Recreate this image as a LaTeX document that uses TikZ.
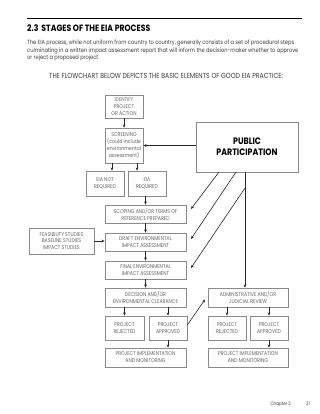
\documentclass[tikz,border=0pt]{standalone}
\usepackage{fontspec}
\setmainfont{Poppins}[FakeStretch=0.85]
\usetikzlibrary{arrows.meta}
\definecolor{boxgray}{HTML}{8A8A8A}
\definecolor{txtgray}{HTML}{666666}
\definecolor{paragray}{HTML}{3C3C3C}
\begin{document}
\begin{tikzpicture}[x=1pt,y=-1pt,
  box/.style={draw=boxgray,line width=0.6pt,text=txtgray,align=center,inner sep=0pt,font=\fontsize{5.5}{6.9}\selectfont},
  arr/.style={-{Stealth[length=3.2pt,width=2.6pt]},line width=0.6pt,draw=black!85},
  para/.style={anchor=base west,inner sep=0pt,text=paragray,font=\fontsize{6}{7}\selectfont}]
\useasboundingbox (0,0) rectangle (320,414);
% header
\coordinate (r1) at (27,19);
\coordinate (r2) at (302,19);
\draw[line width=1pt] (r1) -- (r2);
\node[anchor=base west,inner sep=0pt,font=\fontsize{9.1}{10}\bfseries\selectfont] (title) at (27,32) {2.3\hspace{3pt}STAGES OF THE EIA PROCESS};
\node[para] (p1) at (27,45) {The EIA process, while not uniform from country to country, generally consists of a set of procedural steps};
\node[para] (p2) at (27,52.5) {culminating in a written impact assessment report that will inform the decision-maker whether to approve};
\node[para] (p3) at (27,60) {or reject a proposed project.};
\node[anchor=base,inner sep=0pt,text=paragray,font=\fontsize{7.3}{8}\selectfont] (sub) at (166,79) {THE FLOWCHART BELOW DEPICTS THE BASIC ELEMENTS OF GOOD EIA PRACTICE:};
% boxes
\node[box,minimum width=38pt,minimum height=23pt] (ident) at (124,106.5) {IDENTIFY\\PROJECT\\OR ACTION};
\node[box,minimum width=38pt,minimum height=35pt] (screen) at (124,145.5) {SCREENING\\(could include\\environmental\\assessment)};
\node[box,minimum width=102pt,minimum height=50pt,text=black,font=\fontsize{9.3}{11}\bfseries\selectfont] (pp) at (247,147) {PUBLIC\\PARTICIPATION};
\node[box,minimum width=38pt,minimum height=25pt] (notreq) at (105,183.5) {EIA NOT\\REQUIRED};
\node[box,minimum width=38pt,minimum height=25pt] (req) at (147,183.5) {EIA\\REQUIRED};
\node[box,minimum width=81pt,minimum height=18pt] (scope) at (145.5,214) {SCOPING AND/OR TERMS OF\\REFERENCE PREPARED};
\node[box,minimum width=81pt,minimum height=18pt] (draft) at (145.5,242) {DRAFT ENVIRONMENTAL\\IMPACT ASSESSMENT};
\node[box,minimum width=65pt,minimum height=26pt] (feas) at (61.5,241) {FEASIBILITY STUDIES\\BASELINE STUDIES\\IMPACT STUDIES};
\node[box,minimum width=81pt,minimum height=18pt] (final) at (145.5,270) {FINAL ENVIRONMENTAL\\IMPACT ASSESSMENT};
\node[box,minimum width=81pt,minimum height=19pt] (decision) at (145.5,297.5) {DECISION AND/OR\\ENVIRONMENTAL CLEARANCE};
\node[box,minimum width=80pt,minimum height=19pt] (admin) at (248,297.5) {ADMINISTRATIVE AND/OR\\JUDICIAL REVIEW};
\node[box,minimum width=39pt,minimum height=24pt] (rejL) at (124.5,328) {PROJECT\\REJECTED};
\node[box,minimum width=38pt,minimum height=24pt] (appL) at (168,328) {PROJECT\\APPROVED};
\node[box,minimum width=81pt,minimum height=19pt] (implL) at (145.5,357.5) {PROJECT IMPLEMENTATION\\AND MONITORING};
\node[box,minimum width=38pt,minimum height=24pt] (rejR) at (227,328) {PROJECT\\REJECTED};
\node[box,minimum width=38pt,minimum height=24pt] (appR) at (269,328) {PROJECT\\APPROVED};
\node[box,minimum width=80pt,minimum height=19pt] (implR) at (248,357.5) {PROJECT IMPLEMENTATION\\AND MONITORING};
% footer
\node[anchor=base east,inner sep=0pt,text=paragray,font=\fontsize{4.8}{6}\selectfont] (chap) at (291,405) {Chapter 2};
\node[anchor=base east,inner sep=0pt,text=paragray,font=\fontsize{4.8}{6}\selectfont] (page) at (310,405) {21};
% main flow arrows
\draw[arr] (ident.south) -- (screen.north);
\draw[arr] ([xshift=-12pt]screen.south) -- ([xshift=-12pt]screen.south |- notreq.north);
\draw[arr] ([xshift=13pt]screen.south) -- ([xshift=13pt]screen.south |- req.north);
\draw[arr] (scope.north |- req.south) -- (scope.north);
\draw[arr] (scope.south) -- (draft.north);
\draw[arr] (draft.south) -- (final.north);
\draw[arr] (final.south) -- (decision.north);
\draw[arr] (rejL.north |- decision.south) -- (rejL.north);
\draw[arr] (appL.north |- decision.south) -- (appL.north);
\draw[arr] (appL.south) -- (appL.south |- implL.north);
\draw[arr] (rejR.north |- admin.south) -- (rejR.north);
\draw[arr] (appR.north |- admin.south) -- (appR.north);
\draw[arr] (appR.south) -- (appR.south |- implR.north);
\draw[arr] (feas.east) -- (feas.east -| draft.west);
% public participation arrows
\draw[arr] (pp.west |- screen.east) -- (screen.east);
\coordinate (d1s) at (219,172);
\coordinate (d1e) at (191,209);
\coordinate (d2s) at (236,172);
\coordinate (d2e) at (191,239);
\coordinate (d3s) at (245,188);
\coordinate (d3e) at (191,268);
\coordinate (vs) at (245,172);
\draw[arr] (d1s) -- (d1e);
\draw[arr] (d2s) -- (d2e);
\draw[arr] (d3s) -- (d3e);
\draw[arr] (vs) -- (vs |- admin.north);
\coordinate (aa) at (205,299.5);
\draw[arr] ([yshift=3pt]appL.east) -- (aa);
\end{tikzpicture}
\end{document}
